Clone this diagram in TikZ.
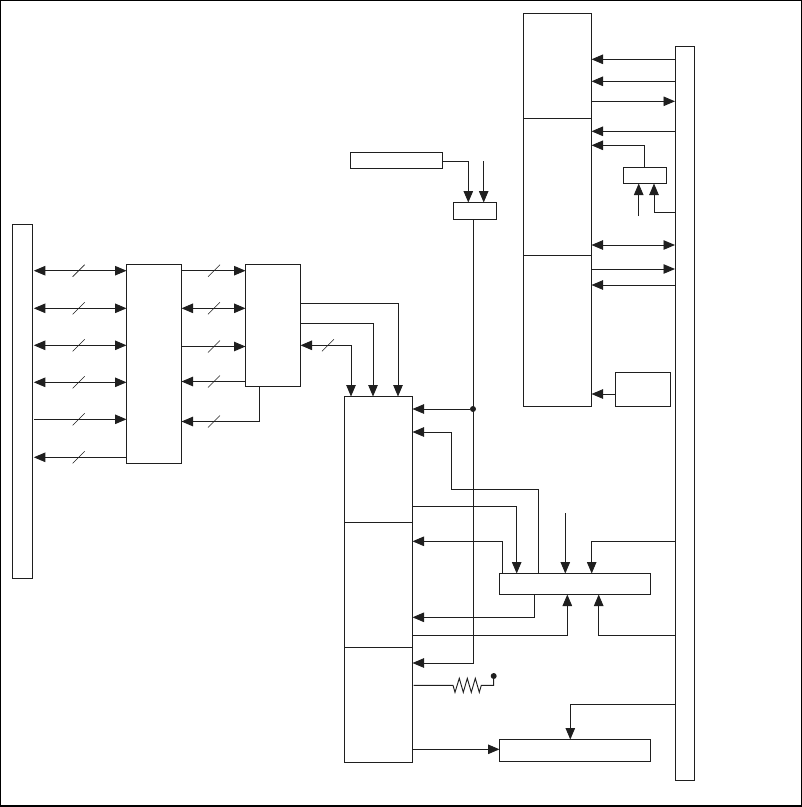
\documentclass[tikz,border=0pt]{standalone}
\usetikzlibrary{arrows.meta}
\definecolor{ink}{gray}{0.12}
\tikzset{
  x=1pt,y=-1pt,
  boxstyle/.style={draw=ink,line width=0.95pt,inner sep=0pt,outer sep=0pt,fill=none},
  wire/.style={draw=ink,line width=0.95pt,line join=miter},
  tip/.tip={Triangle[length=11.5pt,width=9.5pt]},
  arr/.style={wire,-{tip[ink]},shorten >=0pt},
  darr/.style={wire,{tip[ink]}-{tip[ink]},shorten <=0pt,shorten >=0pt},
  busslash/.style={draw=ink,line width=0.6pt},
  junction/.style={circle,fill=ink,draw=none,inner sep=0pt,minimum size=6pt},
}
\newcommand{\bx}[5]{%
  \pgfmathsetmacro{\bxw}{#4-#2}\pgfmathsetmacro{\bxh}{#5-#3}%
  \pgfmathsetmacro{\bxcx}{(#4+#2)/2}\pgfmathsetmacro{\bxcy}{(#5+#3)/2}%
  \node[boxstyle,minimum width=\bxw pt,minimum height=\bxh pt] (#1) at (\bxcx,\bxcy) {};}
\newcommand{\busmark}[2]{\draw[busslash] (#1-6,#2+6) -- (#1+6,#2-6);}
\begin{document}
\begin{tikzpicture}
\useasboundingbox (0,0) rectangle (802,807);
\draw[draw=black,line width=1.4pt] (0.5,0.5) rectangle (801.3,805.8);
% boxes
\bx{L}{12.5}{224.5}{32.5}{578}
\bx{A}{126.5}{264.5}{181.5}{463}
\bx{B}{245.5}{264.5}{300.5}{386}
\bx{Ca}{344.5}{396.5}{412.5}{522}
\bx{Cb}{344.5}{522}{412.5}{647}
\bx{Cc}{344.5}{647}{412.5}{762}
\bx{Da}{523.5}{13.5}{591.5}{118}
\bx{Db}{523.5}{118}{591.5}{255}
\bx{Dc}{523.5}{255}{591.5}{406.5}
\bx{R}{675}{46.5}{694.5}{780}
\bx{E}{350.5}{152.5}{442.5}{168.5}
\bx{F}{453.5}{202.5}{496.5}{219}
\bx{G}{623.5}{167.5}{666.5}{183.5}
\bx{H}{615.5}{372.5}{670.5}{406.5}
\bx{I}{499.5}{573.5}{650.5}{594.5}
\bx{J}{499.5}{739.5}{650.5}{761.5}
% free ends
\coordinate (f1) at (483.7,161);
\coordinate (f2) at (638.7,216);
\coordinate (f3) at (565.3,513);
% left group
\coordinate (lx) at (33.8,0);
\foreach \yy in {270.7,308.3,345.3,382.3}{
  \draw[darr] (lx |- 0,\yy) -- (A.west |- 0,\yy);
  \busmark{78.7}{\yy}
}
\draw[arr] (lx |- 0,419.3) -- (A.west |- 0,419.3); \busmark{78.7}{419.3}
\draw[arr] (A.west |- 0,457.3) -- (lx |- 0,457.3); \busmark{78.7}{457.3}
% A-B
\draw[arr] (A.east |- 0,270.7) -- (B.west |- 0,270.7); \busmark{214}{270.7}
\draw[darr] (A.east |- 0,308.3) -- (B.west |- 0,308.3); \busmark{214}{308.3}
\draw[arr] (A.east |- 0,346.5) -- (B.west |- 0,346.5); \busmark{214}{346.5}
\draw[arr] (B.west |- 0,381.5) -- (A.east |- 0,381.5); \busmark{214}{381.5}
\draw[arr] (B.south -| 259.5,0) -- (259.5,421.5) -- (A.east |- 0,421.5); \busmark{214}{421.5}
% B-C
\draw[arr] (B.east |- 0,303.3) -- (398,303.3) -- (398,396.5);
\draw[arr] (B.east |- 0,323.3) -- (373,323.3) -- (373,396.5);
\draw[darr] (B.east |- 0,345.3) -- (351,345.3) -- (351,396.5); \busmark{328}{345.3}
% E, F
\draw[arr] (E.east |- 0,161.3) -- (468.3,161.3) -- (468.3,202.5);
\draw[arr] (f1) -- (f1 |- F.north);
\draw[arr] (F.south -| 473,0) -- (473,663) -- (Cc.east |- 0,663);
\node[junction] (dot1) at (473,409) {};
\draw[arr] (dot1) -- (Ca.east |- dot1);
% C - I
\draw[arr] (538.3,573.5) -- (538.3,489.3) -- (451.5,489.3) -- (451.5,432) -- (Ca.east |- 0,432);
\draw[arr] (Ca.east |- 0,506.3) -- (516.7,506.3) -- (516.7,573.5);
\draw[arr] (502.3,573.5) -- (502.3,541.3) -- (Cb.east |- 0,541.3);
\draw[arr] (f3) -- (f3 |- I.north);
\draw[arr] (R.west |- 0,541.3) -- (591.7,541.3) -- (591.7,573.5);
\draw[arr] (534.7,594.5) -- (534.7,617.3) -- (Cb.east |- 0,617.3);
\draw[arr] (Cb.east |- 0,635.3) -- (567.3,635.3) -- (567.3,594.5);
\draw[arr] (R.west |- 0,635.3) -- (598.7,635.3) -- (598.7,594.5);
% resistor
\node[junction] (dot2) at (493.7,676) {};
\draw[wire] (413.5,685.3) -- (453,685.3) -- (455,692.3) -- (459.3,678.3) -- (463.3,692.3) -- (467.3,678.3) -- (471.3,692.3) -- (475.3,678.3) -- (479.3,692.3) -- (481.3,685.3) -- (493.7,685.3) -- (dot2);
% C - J, R - J
\draw[arr] (Cc.east |- 0,749.3) -- (J.west |- 0,749.3);
\draw[arr] (R.west |- 0,704.3) -- (570.3,704.3) -- (570.3,739.5);
% D - R
\draw[arr] (R.west |- 0,59.3) -- (Da.east |- 0,59.3);
\draw[arr] (R.west |- 0,81.3) -- (Da.east |- 0,81.3);
\draw[arr] (Da.east |- 0,101.3) -- (R.west |- 0,101.3);
\draw[arr] (R.west |- 0,131.3) -- (Db.east |- 0,131.3);
\draw[arr] (G.north -| 644.3,0) -- (644.3,145.3) -- (Db.east |- 0,145.3);
\draw[arr] (f2) -- (f2 |- G.south);
\draw[arr] (R.west |- 0,212.3) -- (654,212.3) -- (654,183.5);
\draw[darr] (Db.east |- 0,245) -- (R.west |- 0,245);
\draw[arr] (Dc.east |- 0,269) -- (R.west |- 0,269);
\draw[arr] (R.west |- 0,285) -- (Dc.east |- 0,285);
\draw[arr] (H.west |- 0,394) -- (Dc.east |- 0,394);
\end{tikzpicture}
\end{document}
